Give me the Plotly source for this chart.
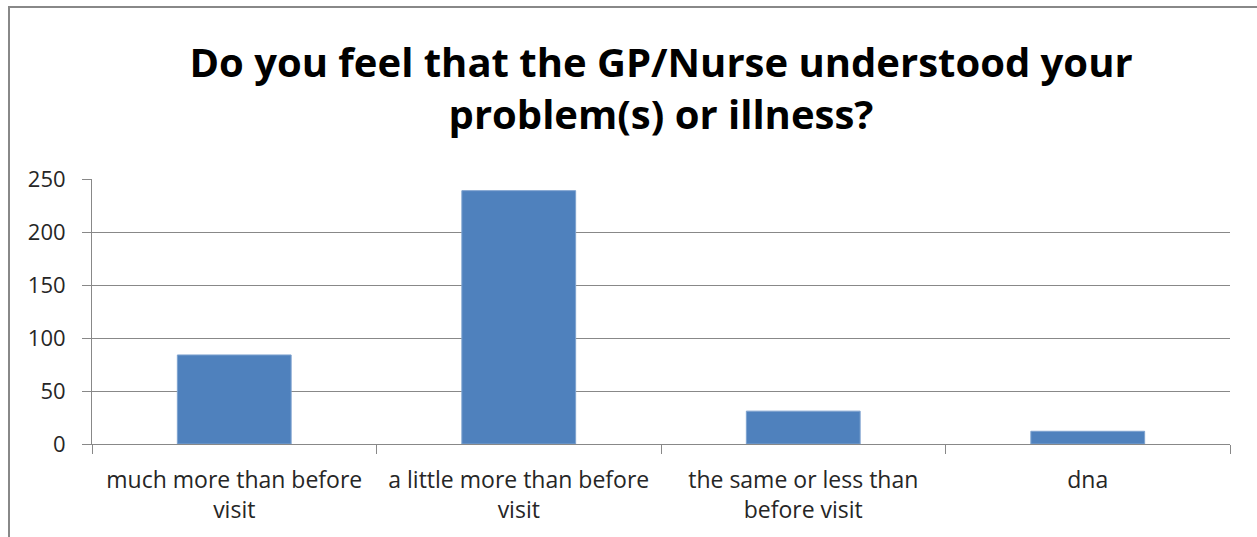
import plotly.graph_objects as go

# Survey responses
categories = [
    "much more than before<br>visit",
    "a little more than before<br>visit",
    "the same or less than<br>before visit",
    "dna",
]
counts = [84, 239, 31, 12]
y_ticks = [0, 50, 100, 150, 200, 250]

title_text = "Do you feel that the GP/Nurse understood your<br>problem(s) or illness?"

W, H = 1257, 537
L, R, T, B = 92, 27, 179, 93
pw, ph = W - L - R, H - T - B

def px_x(x):
    return (x - L) / pw

def px_y(y):
    return (H - B - y) / ph

FONT = "Open Sans, Lato, sans-serif"

fig = go.Figure(
    go.Bar(
        x=categories,
        y=counts,
        marker=dict(color="#4f81bd", line=dict(color="#7ea2cf", width=1)),
        width=0.4,
    )
)

fig.update_layout(
    width=W,
    height=H,
    margin=dict(l=L, r=R, t=T, b=B),
    paper_bgcolor="white",
    plot_bgcolor="white",
    showlegend=False,
    font=dict(family=FONT, color="#262626"),
    title=dict(
        text=title_text,
        x=0.5,
        xref="paper",
        xanchor="center",
        y=1 - 77 / H,
        yanchor="middle",
        font=dict(family=FONT, size=40, color="black", weight="bold"),
    ),
    xaxis=dict(
        type="category",
        tickson="boundaries",
        ticks="outside",
        ticklen=9,
        tickcolor="#888888",
        showline=True,
        linecolor="#888888",
        linewidth=1,
        showgrid=False,
        tickfont=dict(size=23, color="#262626"),
        ticklabelstandoff=15,
    ),
    yaxis=dict(
        range=[0, 250],
        tickvals=y_ticks,
        ticks="outside",
        ticklen=9,
        tickcolor="#888888",
        showline=True,
        linecolor="#888888",
        linewidth=1,
        showgrid=True,
        gridcolor="#888888",
        gridwidth=1,
        zeroline=False,
        tickfont=dict(size=22, color="#262626"),
        ticklabelstandoff=12,
    ),
    shapes=[
        dict(
            type="rect",
            xref="paper",
            yref="paper",
            x0=px_x(9),
            x1=px_x(W + 20),
            y0=px_y(H + 20),
            y1=px_y(7),
            line=dict(color="#888888", width=2),
            fillcolor="rgba(0,0,0,0)",
            layer="below",
        )
    ],
)

fig.write_html("out.html")
